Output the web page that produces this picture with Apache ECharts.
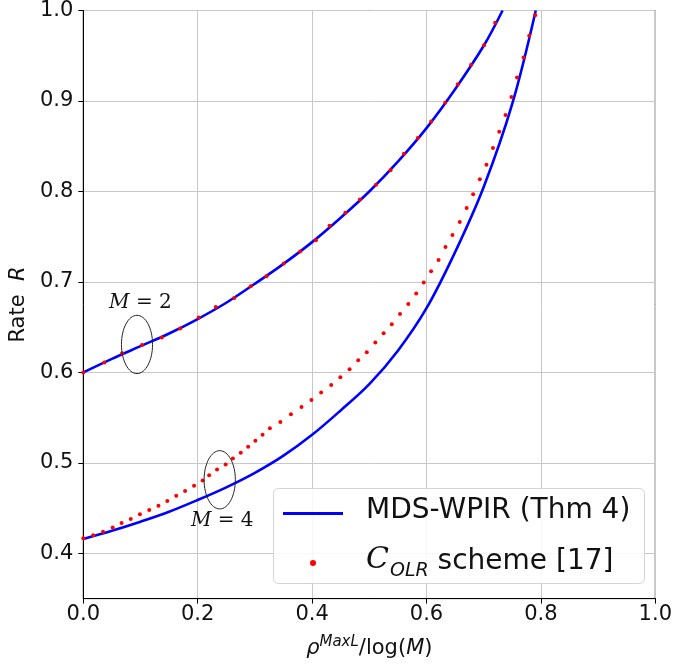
<!DOCTYPE html>
<html><head><meta charset="utf-8">
<script src="https://cdn.jsdelivr.net/npm/echarts@6/dist/echarts.min.js"></script>
<style>html,body{margin:0;padding:0;background:#fff}#c{width:675px;height:671px}</style>
</head><body><div id="c"></div>
<script>
// ---- data ----
const xTicks = [0, 0.2, 0.4, 0.6, 0.8, 1.0];
const yTicks = [0.4, 0.5, 0.6, 0.7, 0.8, 0.9, 1.0];

const seriesNames = ['MDS-WPIR (Thm 4)', 'COLR scheme [17]'];

// MDS-WPIR (Thm 4), M = 2
const thmM2X = [0, 0.05, 0.1, 0.15, 0.2, 0.25, 0.3, 0.35, 0.4, 0.45, 0.5, 0.55, 0.6, 0.65, 0.7, 0.733];
const thmM2Y = [0.600, 0.615, 0.629, 0.643, 0.659, 0.677, 0.698, 0.720, 0.744, 0.771, 0.800, 0.833, 0.870, 0.913, 0.961, 1.000];
// MDS-WPIR (Thm 4), M = 4
const thmM4X = [0, 0.05, 0.1, 0.15, 0.2, 0.25, 0.3, 0.35, 0.4, 0.45, 0.5, 0.55, 0.6, 0.65, 0.7, 0.75, 0.791];
const thmM4Y = [0.416, 0.425, 0.435, 0.446, 0.459, 0.473, 0.489, 0.508, 0.531, 0.558, 0.587, 0.624, 0.671, 0.733, 0.805, 0.897, 1.000];

// C_OLR scheme [17], M = 2
const olrM2X = [0, 0.0368, 0.0679, 0.1025, 0.1371, 0.1694, 0.2017, 0.2316, 0.2640, 0.2927, 0.3203, 0.3504, 0.3791, 0.4068, 0.4304, 0.4581, 0.4835, 0.5117, 0.5371, 0.5606, 0.5848, 0.6082, 0.6327, 0.6548, 0.6780, 0.7006, 0.7200];
const olrM2Y = [0.600, 0.6109, 0.6212, 0.6304, 0.6385, 0.6485, 0.6606, 0.6723, 0.6823, 0.6952, 0.7062, 0.7203, 0.7335, 0.7460, 0.7622, 0.7766, 0.7911, 0.8075, 0.8233, 0.8417, 0.8590, 0.8774, 0.8981, 0.9186, 0.9400, 0.9616, 0.9864];
// C_OLR scheme [17], M = 4
const olrM4X = [0, 0.0173, 0.0346, 0.0514, 0.0669, 0.0830, 0.0990, 0.1153, 0.1314, 0.1469, 0.1625, 0.1780, 0.1936, 0.2086, 0.2200, 0.2338, 0.2489, 0.2615, 0.2753, 0.2882, 0.3008, 0.3134, 0.3262, 0.3445, 0.3630, 0.3815, 0.3988, 0.4158, 0.4334, 0.4494, 0.4655, 0.4806, 0.4956, 0.5105, 0.5250, 0.5393, 0.5537, 0.5682, 0.5820, 0.5952, 0.6080, 0.6211, 0.6332, 0.6453, 0.6581, 0.6702, 0.6816, 0.6932, 0.7048, 0.7162, 0.7272, 0.7381, 0.7485, 0.7583, 0.7697, 0.7796, 0.7900];
const olrM4Y = [0.4167, 0.4199, 0.4239, 0.4287, 0.4335, 0.4379, 0.4431, 0.4478, 0.4526, 0.4578, 0.4636, 0.4688, 0.4747, 0.4804, 0.4862, 0.4928, 0.4983, 0.5049, 0.5111, 0.5177, 0.5244, 0.5310, 0.5384, 0.5453, 0.5538, 0.5619, 0.5696, 0.5778, 0.5862, 0.5947, 0.6035, 0.6135, 0.6223, 0.6330, 0.6433, 0.6532, 0.6646, 0.6756, 0.6871, 0.6993, 0.7118, 0.7242, 0.7386, 0.7519, 0.7662, 0.7817, 0.7968, 0.8134, 0.8296, 0.8479, 0.8660, 0.8844, 0.9043, 0.9260, 0.9481, 0.9721, 0.9948];

// annotations (ellipse centre / half-size in data units, label positions)
const annotLabels = ['2', '4'];
const ellipseCX = [0.0939, 0.2385];
const ellipseCY = [0.6309, 0.4813];
const ellipseRX = [0.0272, 0.0273];
const ellipseRY = [0.0322, 0.0322];
const labelX = [0.0998, 0.2429];
const labelY = [0.6774, 0.4357];

// ---- chart ----
const pairs = (xs, ys) => xs.map((x, i) => [x, ys[i]]);
const chart = echarts.init(document.getElementById('c'), null, {renderer: 'canvas'});
const FONT = 'DejaVu Sans';

const lineSeries = (data) => ({
  name: seriesNames[0], type: 'line', data, showSymbol: false, symbol: 'none',
  smooth: 0.35,
  lineStyle: {color: '#0000ff', width: 2.6}, itemStyle: {color: '#0000ff'}, z: 2, clip: true
});
const dotSeries = (data) => ({
  name: seriesNames[1], type: 'scatter', data, symbol: 'circle', symbolSize: 4,
  itemStyle: {color: '#ff0000', opacity: 1}, z: 3
});

chart.setOption({
  animation: false,
  grid: {left: 80, right: 16.5, top: 10, bottom: 72.4, show: true, borderColor: '#000', borderWidth: 1, backgroundColor: 'transparent'},
  xAxis: {
    type: 'value', min: 0, max: 1, interval: 0.2,
    axisLine: {show: true, lineStyle: {color: '#000', width: 1}},
    axisTick: {show: true, length: 5, lineStyle: {color: '#000'}},
    axisLabel: {fontSize: 21, color: '#111', fontFamily: FONT, margin: 5, formatter: v => v.toFixed(1)},
    splitLine: {show: true, lineStyle: {color: '#c8c8c8', width: 1}},
    name: '{i|ρ}{sup|MaxL}{n|/log(}{i|M}{n|)}', nameLocation: 'middle', nameGap: 36,
    nameTextStyle: {fontFamily: FONT, color: '#111', fontSize: 21, rich: {
      i: {fontSize: 21, fontStyle: 'italic', fontFamily: FONT, color: '#111', verticalAlign: 'bottom'},
      n: {fontSize: 21, fontFamily: FONT, color: '#111', verticalAlign: 'bottom'},
      sup: {fontSize: 15, fontStyle: 'italic', fontFamily: FONT, color: '#111', verticalAlign: 'bottom', padding: [0, 0, 9, 0]}
    }}
  },
  yAxis: {
    type: 'value', min: 0.35, max: 1.0,
    axisLine: {show: true, lineStyle: {color: '#000', width: 1}},
    axisTick: {show: true, length: 5, lineStyle: {color: '#000'}, customValues: yTicks},
    axisLabel: {fontSize: 21, color: '#111', fontFamily: FONT, margin: 10, customValues: yTicks, formatter: v => v.toFixed(1)},
    splitLine: {show: true, lineStyle: {color: '#c8c8c8', width: 1}},
    name: '{n|Rate  }{i|R}', nameLocation: 'middle', nameGap: 50,
    nameTextStyle: {fontFamily: FONT, color: '#111', fontSize: 21, rich: {
      n: {fontSize: 21, fontFamily: FONT, color: '#111'},
      i: {fontSize: 21, fontFamily: FONT, fontStyle: 'italic', color: '#111'}
    }}
  },
  legend: {
    left: 283, top: 497, orient: 'vertical', z: 8,
    padding: 0, itemGap: 18, itemWidth: 60, itemHeight: 6,
    backgroundColor: 'transparent', borderWidth: 0,
    data: [{name: seriesNames[0], icon: 'path://M0,0H60V3H0Z'}, {name: seriesNames[1], icon: 'circle'}],
    itemStyle: {borderWidth: 0, opacity: 1},
    formatter: name => name === seriesNames[0]
      ? '{g| }{t|MDS-WPIR (Thm 4)}'
      : '{g| }{c|C}{s|OLR}{t| scheme [17]}',
    textStyle: {fontSize: 28, color: '#111', fontFamily: FONT, rich: {
      g: {width: 18, fontSize: 28},
      t: {fontSize: 28, fontFamily: FONT, color: '#111', verticalAlign: 'bottom', padding: [0, 0, 5, 0]},
      c: {fontSize: 30, fontFamily: 'DejaVu Serif', fontStyle: 'italic', color: '#111', verticalAlign: 'bottom', padding: [0, 1, 5, 0]},
      s: {fontSize: 19, fontFamily: FONT, fontStyle: 'italic', color: '#111', verticalAlign: 'bottom', padding: [0, 0, 0, 0]}
    }}
  },
  series: [
    lineSeries(pairs(thmM2X, thmM2Y)),
    lineSeries(pairs(thmM4X, thmM4Y)),
    dotSeries(pairs(olrM2X, olrM2Y)),
    dotSeries(pairs(olrM4X, olrM4Y))
  ]
});

// annotations anchored to data coordinates, plus the legend frame
const toPx = (x, y) => chart.convertToPixel({gridIndex: 0}, [x, y]);
const graphics = [{
  type: 'rect', z: 7, shape: {x: 273.5, y: 488.5, width: 371, height: 95, r: 5},
  style: {fill: 'rgba(255,255,255,0.85)', stroke: '#d4d4d4', lineWidth: 1}
}];
annotLabels.forEach((lab, i) => {
  const c = toPx(ellipseCX[i], ellipseCY[i]);
  const e = toPx(ellipseCX[i] + ellipseRX[i], ellipseCY[i] + ellipseRY[i]);
  graphics.push({
    type: 'ellipse', shape: {cx: c[0], cy: c[1], rx: Math.abs(e[0] - c[0]), ry: Math.abs(e[1] - c[1])},
    style: {fill: 'none', stroke: '#222', lineWidth: 1}, z: 10
  });
  const t = toPx(labelX[i], labelY[i]);
  graphics.push({
    type: 'text', x: t[0], y: t[1], z: 10,
    style: {
      text: '{i|M}{r| = ' + lab + '}', align: 'center', verticalAlign: 'middle',
      rich: {
        i: {fontFamily: 'DejaVu Serif', fontStyle: 'italic', fontSize: 20, fill: '#111'},
        r: {fontFamily: 'DejaVu Serif', fontSize: 20, fill: '#111'}
      }
    }
  });
});
chart.setOption({graphic: graphics});
</script>
</body></html>
